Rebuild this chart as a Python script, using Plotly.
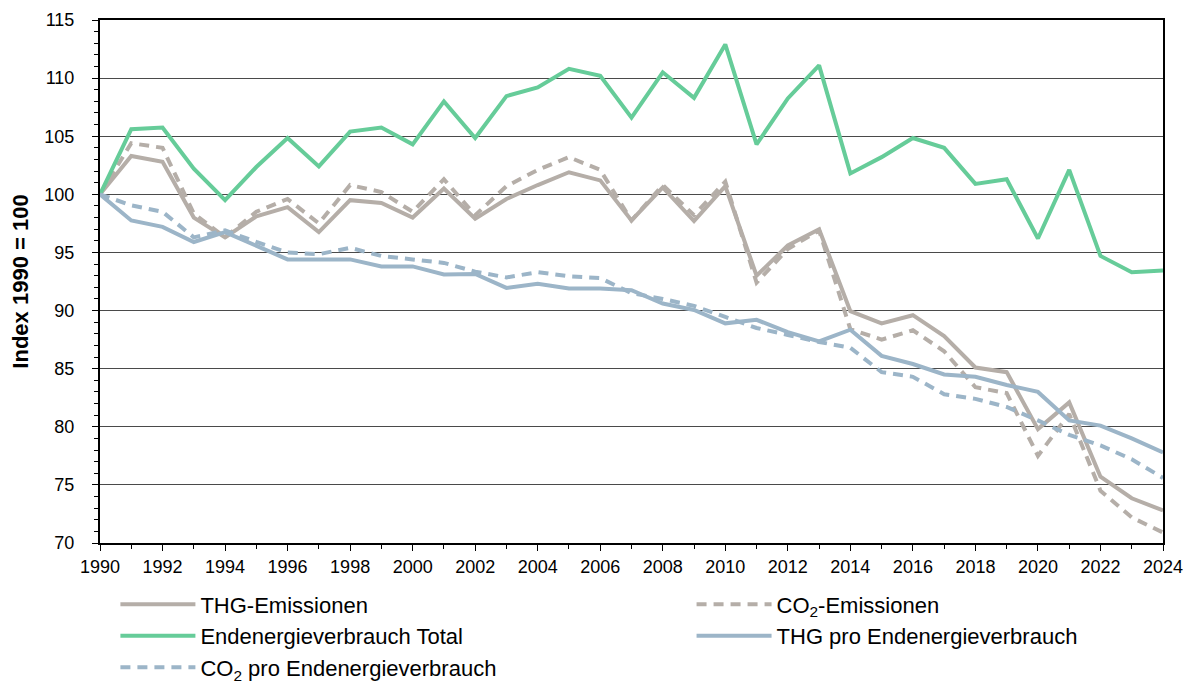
import plotly.graph_objects as go

# Jahre und Indexwerte (1990 = 100)
years = list(range(1990, 2025))

thg = [100, 103.3, 102.8, 98.0, 96.3, 98.1, 98.9, 96.75, 99.5, 99.25,
       98.0, 100.5, 97.9, 99.6, 100.8, 101.9, 101.2, 97.75, 100.6, 97.7,
       100.7, 93.0, 95.6, 97.0, 89.95, 88.9, 89.6, 87.8, 85.1, 84.7,
       79.8, 82.1, 75.7, 73.85, 72.8]
co2 = [100, 104.4, 104.0, 98.35, 96.3, 98.5, 99.6, 97.5, 100.8, 100.2,
       98.5, 101.3, 98.2, 100.7, 102.1, 103.2, 102.1, 97.75, 100.8, 98.2,
       101.1, 92.4, 95.3, 96.9, 88.4, 87.5, 88.3, 86.5, 83.4, 82.9,
       77.5, 81.1, 74.5, 72.2, 70.9]
eev = [100, 105.6, 105.75, 102.2, 99.5, 102.35, 104.85, 102.4, 105.4, 105.75,
       104.3, 108.0, 104.85, 108.45, 109.2, 110.8, 110.2, 106.6, 110.5, 108.3,
       112.9, 104.3, 108.25, 111.1, 101.8, 103.2, 104.85, 104.0, 100.9, 101.3,
       96.2, 102.1, 94.7, 93.3, 93.45]
thg_eev = [100, 97.75, 97.2, 95.9, 96.75, 95.6, 94.4, 94.4, 94.4, 93.8,
           93.8, 93.1, 93.15, 91.95, 92.3, 91.9, 91.9, 91.75, 90.6, 90.05,
           88.9, 89.2, 88.15, 87.35, 88.35, 86.1, 85.4, 84.5, 84.3, 83.6,
           83.0, 80.55, 80.1, 79.0, 77.8]
co2_eev = [100, 99.05, 98.5, 96.3, 96.9, 95.9, 95.0, 94.85, 95.4, 94.7,
           94.4, 94.1, 93.35, 92.85, 93.3, 92.95, 92.8, 91.5, 91.0, 90.4,
           89.45, 88.5, 87.9, 87.3, 86.8, 84.7, 84.3, 82.8, 82.4, 81.7,
           80.55, 79.3, 78.4, 77.2, 75.6]

GRAU = "#B5AEA8"
GRUEN = "#66CC99"
BLAU = "#9CB5C8"
FONT = "Liberation Sans, Arial, sans-serif"

# (Name, Werte, Farbe, Linienstil, Legendenspalte)
series = [
    ("THG-Emissionen", thg, GRAU, "solid", "legend"),
    ("CO<sub>2</sub>-Emissionen", co2, GRAU, "10px,7px", "legend2"),
    ("Endenergieverbrauch Total", eev, GRUEN, "solid", "legend"),
    ("THG pro Endenergieverbrauch", thg_eev, BLAU, "solid", "legend2"),
    ("CO<sub>2</sub> pro Endenergieverbrauch", co2_eev, BLAU, "10px,7px", "legend"),
]

fig = go.Figure()
for name, values, color, dash, leg in series:
    fig.add_trace(go.Scatter(
        x=years, y=values, name=name, mode="lines", legend=leg,
        line=dict(color=color, width=4, dash=dash),
    ))

# y am Container ausgerichtet, damit die Legenden den unteren Rand nicht verschieben
legend_style = dict(
    orientation="v", xref="paper", yref="container",
    yanchor="top", y=0.1637, xanchor="left",
    font=dict(size=22), tracegroupgap=0, itemwidth=75,
    bgcolor="rgba(0,0,0,0)",
)

# Seite hat 8px Rand, daher Margins entsprechend versetzt
fig.update_layout(
    width=1195, height=688,
    margin=dict(l=92, r=40, t=12, b=153),
    plot_bgcolor="white", paper_bgcolor="white",
    font=dict(family=FONT, color="black", size=18),
    legend=dict(x=0.0145, **legend_style),
    legend2=dict(x=0.5565, **legend_style),
)

fig.update_xaxes(
    range=[1990, 2024], tick0=1990, dtick=2, automargin=False,
    showgrid=False, zeroline=False,
    showline=True, linecolor="black", linewidth=2, mirror=True,
    ticks="outside", ticklen=6, tickcolor="black",
    minor=dict(dtick=1, ticks="outside", ticklen=4, tickcolor="black"),
    tickfont=dict(size=18),
)
fig.update_yaxes(
    range=[70, 115], dtick=5, automargin=False,
    showgrid=True, gridcolor="#4a4a4a", gridwidth=1, zeroline=False,
    showline=True, linecolor="black", linewidth=2, mirror=True,
    ticks="outside", ticklen=6, tickcolor="black",
    minor=dict(dtick=1, ticks="outside", ticklen=4, tickcolor="black"),
    tickfont=dict(size=18), ticklabelstandoff=14,
    title=dict(text="<b>Index 1990 = 100</b>", font=dict(size=22), standoff=16),
)

fig.write_html("out.html")
